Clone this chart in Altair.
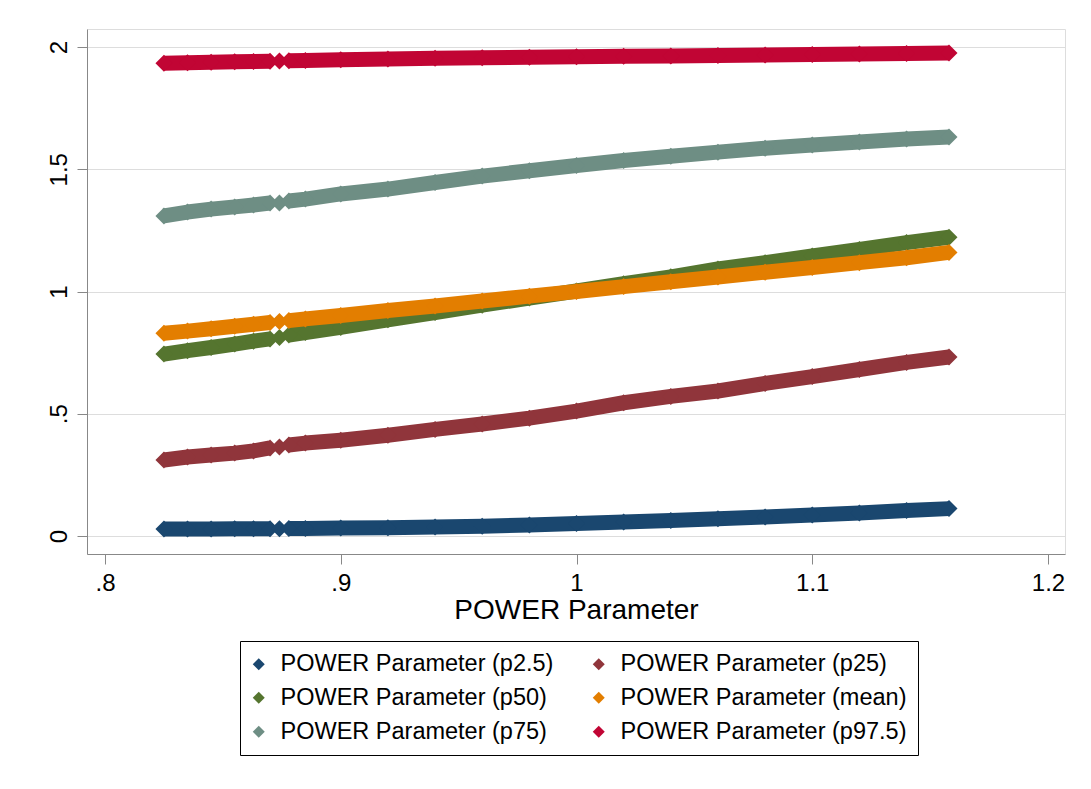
import altair as alt
import pandas as pd

# ---- data ----
x_vals = [0.825, 0.835, 0.845, 0.855, 0.863, 0.870, 0.874, 0.878, 0.885, 0.90, 0.92, 0.94,
          0.96, 0.98, 1.00, 1.02, 1.04, 1.06, 1.08, 1.10, 1.12, 1.14, 1.158]
segments = [0, 0, 0, 0, 0, 0, 1, 2, 2, 2, 2, 2, 2, 2, 2, 2, 2, 2, 2, 2, 2, 2, 2]

series_names = [
    "POWER Parameter (p2.5)", "POWER Parameter (p25)", "POWER Parameter (p50)",
    "POWER Parameter (mean)", "POWER Parameter (p75)", "POWER Parameter (p97.5)",
]
series_colors = ["#1a476f", "#90353b", "#55752f", "#e37e00", "#6e8e84", "#c10534"]

p2_5 = [0.029, 0.029, 0.029, 0.030, 0.030, 0.030, 0.030, 0.031, 0.031, 0.033, 0.034, 0.037,
        0.040, 0.045, 0.051, 0.057, 0.063, 0.071, 0.078, 0.086, 0.094, 0.104, 0.112]
p25 = [0.311, 0.323, 0.331, 0.339, 0.348, 0.360, 0.364, 0.372, 0.380, 0.392, 0.412, 0.436,
       0.458, 0.482, 0.511, 0.545, 0.571, 0.593, 0.624, 0.652, 0.681, 0.710, 0.732]
p50 = [0.744, 0.758, 0.771, 0.785, 0.797, 0.806, 0.812, 0.822, 0.832, 0.853, 0.884, 0.914,
       0.944, 0.973, 1.002, 1.032, 1.060, 1.092, 1.118, 1.145, 1.172, 1.200, 1.222]
mean = [0.829, 0.838, 0.848, 0.858, 0.866, 0.873, 0.877, 0.881, 0.888, 0.902, 0.922, 0.941,
        0.961, 0.981, 1.000, 1.020, 1.040, 1.059, 1.079, 1.098, 1.118, 1.138, 1.160]
p75 = [1.309, 1.325, 1.337, 1.346, 1.354, 1.362, 1.362, 1.370, 1.378, 1.399, 1.419, 1.446,
       1.472, 1.494, 1.515, 1.536, 1.553, 1.570, 1.586, 1.599, 1.611, 1.624, 1.632]
p97_5 = [1.934, 1.936, 1.938, 1.940, 1.941, 1.942, 1.943, 1.944, 1.945, 1.948, 1.951, 1.954,
         1.956, 1.958, 1.960, 1.962, 1.963, 1.965, 1.967, 1.969, 1.971, 1.973, 1.975]

x_ticks = [0.8, 0.9, 1.0, 1.1, 1.2]
y_ticks = [0, 0.5, 1, 1.5, 2]

series_values = [p2_5, p25, p50, mean, p75, p97_5]

rows = []
for name, vals in zip(series_names, series_values):
    for xv, sg, yv in zip(x_vals, segments, vals):
        rows.append({"x": xv, "seg": sg, "series": name, "y": yv})
df = pd.DataFrame(rows)

FONT = "Liberation Sans"
label_expr = ("datum.value > 0 && datum.value < 1 ? substring(format(datum.value, '.1f'), 1)"
              " : format(datum.value, '~g')")

x_enc = alt.X("x:Q", scale=alt.Scale(domain=[0.79236, 1.20721], nice=False, zero=False),
              axis=alt.Axis(values=x_ticks, labelExpr=label_expr, title="POWER Parameter",
                            grid=False, tickSize=10, labelPadding=7, titlePadding=1,
                            labelFontSize=24, titleFontSize=28, titleFontWeight="normal",
                            labelFlush=False))
y_enc = alt.Y("y:Q", scale=alt.Scale(domain=[-0.0736, 2.0736], nice=False, zero=False),
              axis=alt.Axis(values=y_ticks, labelExpr=label_expr, title=None, grid=True,
                            tickSize=10, labelAngle=270, labelAlign="center",
                            labelBaseline="alphabetic", labelPadding=11, labelFontSize=24,
                            labelFlush=False))

base = alt.Chart(df)
layers = []
for name, col in zip(series_names, series_colors):
    sub = base.transform_filter(alt.datum.series == name)
    line = sub.mark_line(strokeWidth=15, color=col, strokeCap="butt", strokeJoin="round").encode(
        x=x_enc, y=y_enc, detail="seg:N")
    pts = sub.mark_point(filled=True, shape="diamond", size=289, opacity=1).encode(
        x=x_enc, y=y_enc,
        color=alt.Color("series:N", scale=alt.Scale(domain=series_names, range=series_colors),
                        legend=alt.Legend(title=None, orient="none", legendX=153, legendY=612,
                                          columns=2, direction="horizontal",
                                          symbolType="diamond", symbolSize=144,
                                          symbolStrokeWidth=0, symbolOffset=-4,
                                          labelFontSize=23.5, labelFont=FONT, labelLimit=500,
                                          labelOffset=10, columnPadding=37, rowPadding=9,
                                          padding=11, strokeColor="black",
                                          labelColor="black")))
    layers.append(line)
    layers.append(pts)

chart = alt.layer(*layers).properties(
    width=978, height=525,
    autosize=alt.AutoSizeParams(type="none"),
    padding={"left": 79, "top": 21, "right": 18, "bottom": 210},
).configure_view(stroke=None).configure_axis(
    domainColor="#222222", domainWidth=2, tickColor="#222222", tickWidth=2,
    gridColor="#e8f0f2", gridWidth=1.5, labelFont=FONT, titleFont=FONT,
    labelColor="black", titleColor="black",
).configure(background="white")

chart.save("out.html", embed_options={"renderer": "svg", "actions": False})
